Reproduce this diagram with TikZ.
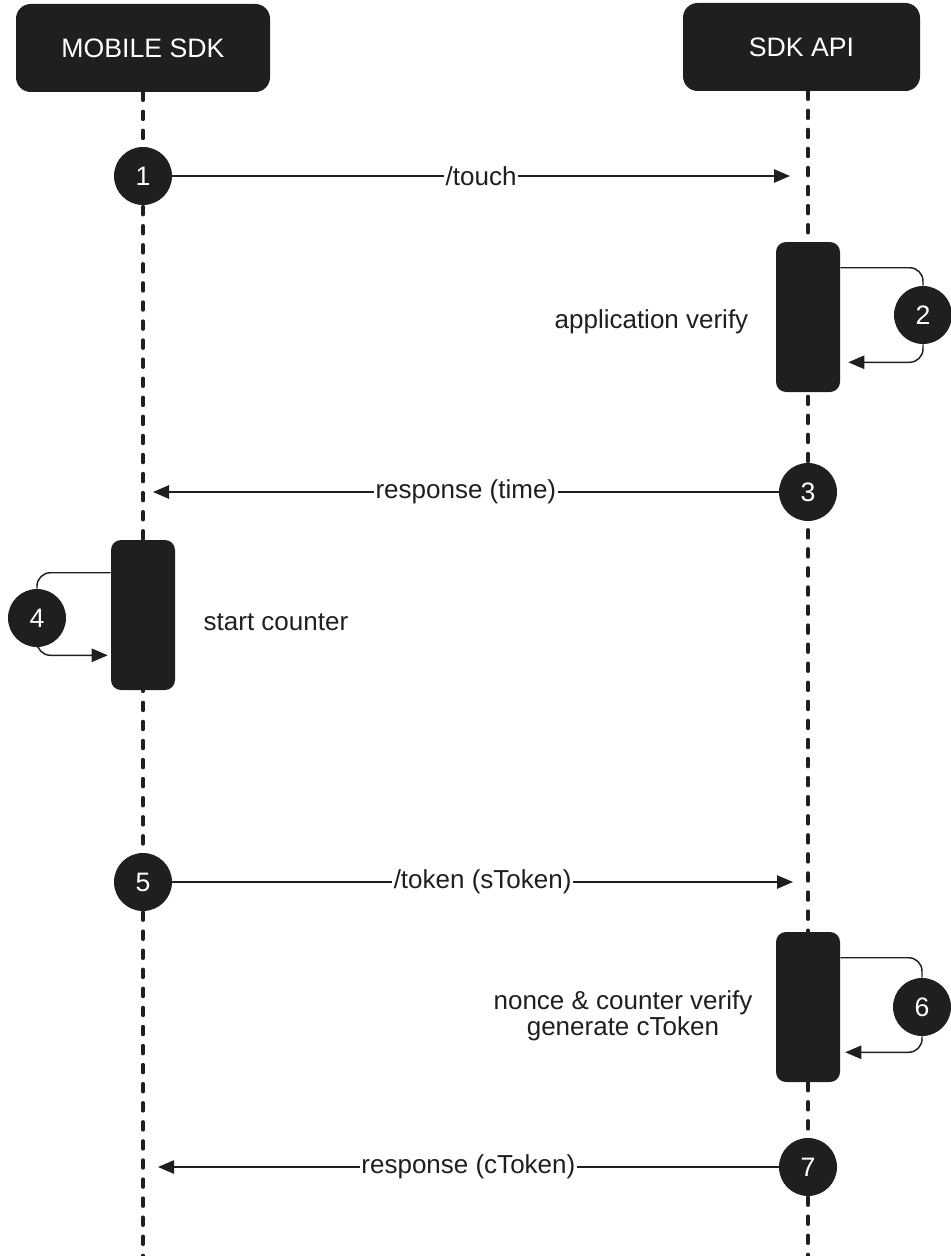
\documentclass[tikz,border=0pt]{standalone}
\usepackage{fontspec}
\setmainfont{Liberation Sans}
\usetikzlibrary{arrows.meta,calc}
\definecolor{ink}{HTML}{1F1F1F}

\tikzset{
  head/.style={fill=ink, text=white, rounded corners=11pt, minimum height=66pt, font=\fontsize{20}{24}\selectfont},
  life/.style={ink, line width=2.6pt, line cap=round, dash pattern=on 6pt off 8.3pt},
  actbox/.style={fill=ink, rounded corners=7.5pt, minimum width=48pt, minimum height=112.5pt},
  num/.style={circle, fill=ink, text=white, minimum size=43.5pt, inner sep=0pt, font=\fontsize{20}{24}\selectfont},
  msg/.style={ink, line width=1.1pt, -{Triangle[length=12pt,width=10pt]}},
  msglbl/.style={fill=white, inner sep=1pt, text=ink, font=\fontsize{19.5}{23}\selectfont},
  note/.style={text=ink, font=\fontsize{19.5}{18}\selectfont, align=center},
  selfloop/.style={ink, line width=1.1pt, rounded corners=10pt},
}

\begin{document}
\begin{tikzpicture}[x=0.75pt, y=-0.75pt]
\useasboundingbox (0,0) rectangle (950,1256);
% participants and lifelines
\node[head, minimum width=190.5pt] (mobile) at (143,48) {MOBILE SDK};
\node[head, minimum width=177.75pt] (api) at (801.5,47) {SDK API};
\coordinate (mobileEnd) at (143,1256);
\coordinate (apiEnd) at (808,1256);
\draw[life] (mobile.south) -- (mobileEnd);
\draw[life] (api.south -| apiEnd) -- (apiEnd);

% 1: touch
\node[num] (n1) at (143,176) {1};
\coordinate (t1) at (790,176);
\draw[msg] (n1.east) -- (n1.east -| t1) node[msglbl, midway] {/touch};

% 2: application verify
\node[actbox] (act2) at (808,317) {};
\node[num] (n2) at (923,315) {2};
\node[note, anchor=east] (txt2) at (753,322) {application verify};
\draw[selfloop] ($(act2.north east)+(0,26)$) -| (n2.north);
\draw[selfloop, msg] (n2.south) |- ($(act2.south east)+(8,-30)$);

% 3: response (time)
\node[num] (n3) at (808,492) {3};
\coordinate (t3) at (153,492);
\draw[msg] (n3.west) -- (n3.west -| t3) node[msglbl, midway] {response (time)};

% 4: start counter
\node[actbox] (act4) at (143,615) {};
\node[num] (n4) at (37,618) {4};
\node[note, anchor=west] (txt4) at (199,622) {start counter};
\draw[selfloop] ($(act4.north west)+(0,33)$) -| (n4.north);
\draw[selfloop, msg] (n4.south) |- ($(act4.south west)+(-3,-35)$);

% 5: token
\node[num] (n5) at (143,882) {5};
\coordinate (t5) at (793,882);
\draw[msg] (n5.east) -- (n5.east -| t5) node[msglbl, midway] {/token (sToken)};

% 6: nonce & counter verify
\node[actbox] (act6) at (808,1007) {};
\node[num] (n6) at (922,1007) {6};
\node[note, anchor=east] (txt6) at (757,1016) {nonce \& counter verify\\generate cToken};
\draw[selfloop] ($(act6.north east)+(0,26)$) -| (n6.north);
\draw[selfloop, msg] (n6.south) |- ($(act6.south east)+(5,-30)$);

% 7: response (cToken)
\node[num] (n7) at (808,1167) {7};
\coordinate (t7) at (158,1167);
\draw[msg] (n7.west) -- (n7.west -| t7) node[msglbl, midway] {response (cToken)};
\end{tikzpicture}
\end{document}
